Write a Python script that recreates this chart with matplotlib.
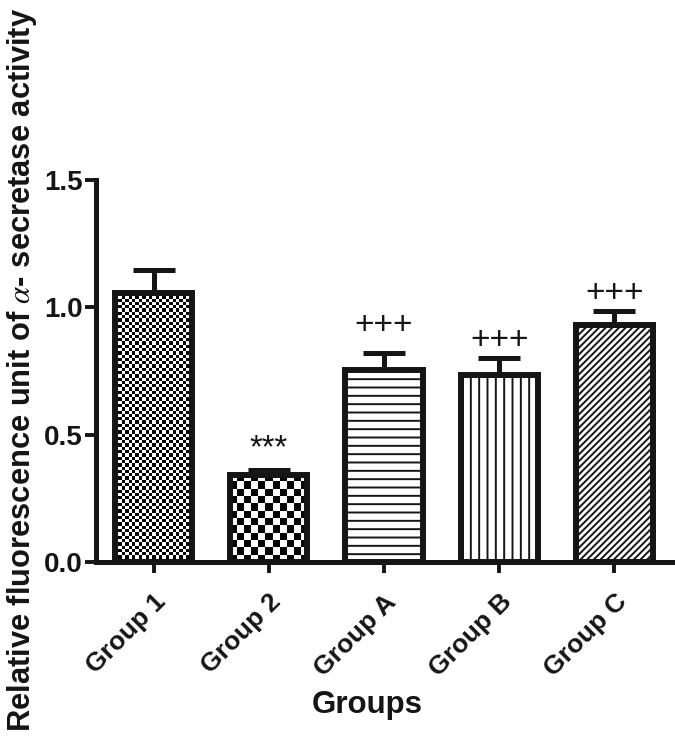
import numpy as np
import matplotlib
matplotlib.use("Agg")
import matplotlib.pyplot as plt

plt.rcParams["font.family"] = ["Liberation Sans", "DejaVu Sans"]
plt.rcParams["mathtext.fontset"] = "stix"
plt.rcParams["hatch.linewidth"] = 1.4

groups = ["Group 1", "Group 2", "Group A", "Group B", "Group C"]
means = [1.057, 0.342, 0.754, 0.734, 0.930]
sem = [0.089, 0.019, 0.066, 0.066, 0.057]
marks = ["", "***", "+++", "+++", "+++"]
mark_gap = [0, 15, 20, 12.5, 12.5]  # points above the error cap
hatches = [None, None, "--", "||", "/////"]
checker_px = [3.3, 7.3, None, None, None]  # checkerboard cell size in pixels

fig = plt.figure(figsize=(6.75, 7.39), dpi=100)
ax = fig.add_axes([96 / 675, 1 - 562 / 739, 576 / 675, 382 / 739])

x = np.arange(len(groups))
ax.set_xlim(-0.5, 4.5)
ax.set_ylim(0, 1.5)

lw = 4.3
bars = ax.bar(x, means, width=0.67, color="white", edgecolor="#151515",
              linewidth=lw, zorder=2)
for b, h, c in zip(bars, hatches, checker_px):
    if h:
        b.set_hatch(h)
    if c:
        b.set_facecolor("none")
        x0, x1 = b.get_x(), b.get_x() + b.get_width()
        p0 = ax.transData.transform((x0, 0))
        p1 = ax.transData.transform((x1, b.get_height()))
        nx = int(round((p1[0] - p0[0]) / c))
        ny = int(round((p1[1] - p0[1]) / c))
        ii, jj = np.indices((ny, nx))
        board = (ii + jj) % 2
        im = ax.imshow(board, cmap="gray", extent=(x0, x1, 0, b.get_height()),
                       interpolation="nearest", aspect="auto", origin="lower",
                       zorder=1.5)
        im.set_clip_path(b)

ax.errorbar(x, means, yerr=[np.zeros(len(sem)), sem], fmt="none",
            ecolor="#151515", elinewidth=3.6, capsize=15, capthick=3.6, zorder=3)

for xi, m, s, t, g in zip(x, means, sem, marks, mark_gap):
    if t:
        ax.annotate(t, (xi, m + s), xytext=(0, g), textcoords="offset points",
                    ha="center", va="center", fontsize=24 if t[0] == "+" else 23.5,
                    color="#151515")

ax.spines[["top", "right"]].set_visible(False)
ax.spines[["left", "bottom"]].set_linewidth(3.6)
ax.spines[["left", "bottom"]].set_color("#151515")
ax.set_yticks([0.0, 0.5, 1.0, 1.5])
ax.set_yticklabels(["0.0", "0.5", "1.0", "1.5"])
ax.set_xticks(x)
ax.set_xticklabels(groups, rotation=45, ha="right", rotation_mode="anchor")
ax.tick_params(axis="both", width=2.8, length=8, color="#151515",
               labelcolor="#151515")
ax.tick_params(axis="y", labelsize=20, pad=1.5)
ax.tick_params(axis="x", labelsize=19, pad=12)
for lab in ax.get_xticklabels() + ax.get_yticklabels():
    lab.set_fontweight("bold")

ax.set_xlabel("Groups", fontsize=22.5, fontweight="bold", color="#151515")
ax.xaxis.set_label_coords((367 - 96) / 576, (562 - 690) / 382)
fig.text(22 / 675, 1 - 370 / 739,
         r"Relative fluorescence unit of $\alpha$- secretase activity",
         rotation=90, ha="center", va="center", fontsize=22.2,
         fontweight="bold", color="#151515")

fig.savefig("out.png", dpi=100)
